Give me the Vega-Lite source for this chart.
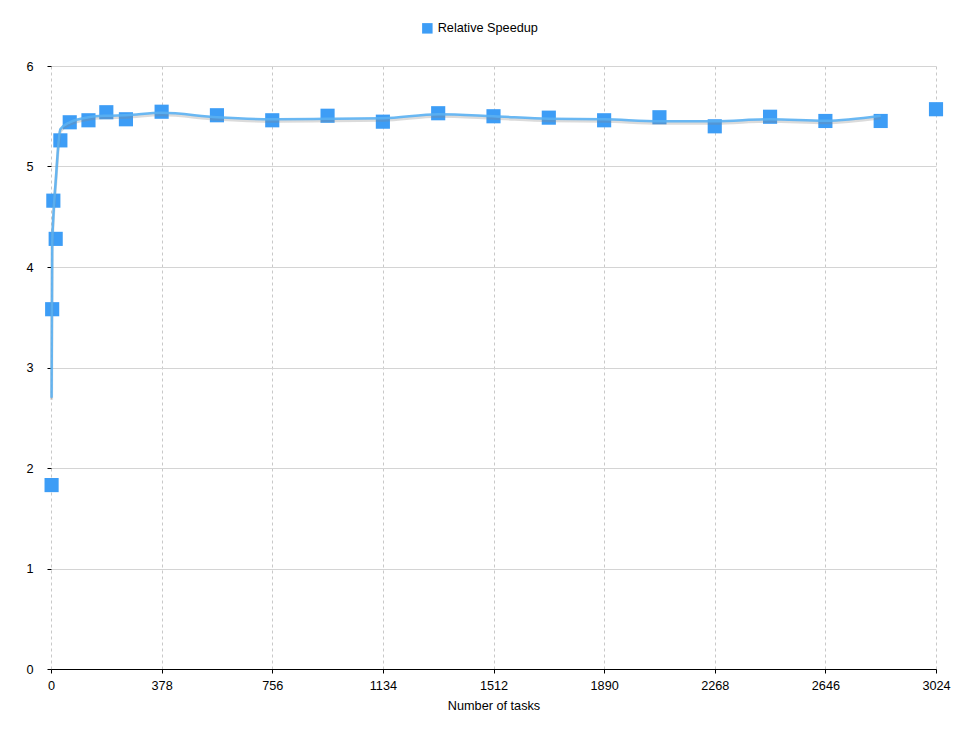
{
  "$schema": "https://vega.github.io/schema/vega-lite/v6.json",
  "width": 885,
  "height": 603,
  "autosize": {"type": "none"},
  "padding": {"left": 51, "top": 66, "right": 34, "bottom": 69},
  "background": "white",
  "config": {
    "font": "Liberation Sans",
    "view": {"stroke": null},
    "axis": {"labelFont": "Liberation Sans", "titleFont": "Liberation Sans", "labelFontSize": 12.7, "titleFontSize": 12.7, "labelColor": "#000", "titleColor": "#000", "titleFontWeight": "normal"},
    "legend": {"labelFont": "Liberation Sans", "labelFontSize": 12.7, "labelColor": "#000"}
  },
  "datasets": {
    "pts": [
      {"tasks": 2, "speedup": 1.83},
      {"tasks": 4, "speedup": 3.58},
      {"tasks": 8, "speedup": 4.66},
      {"tasks": 16, "speedup": 4.28},
      {"tasks": 32, "speedup": 5.26},
      {"tasks": 64, "speedup": 5.44},
      {"tasks": 128, "speedup": 5.46},
      {"tasks": 189, "speedup": 5.54},
      {"tasks": 256, "speedup": 5.47},
      {"tasks": 378, "speedup": 5.545},
      {"tasks": 567, "speedup": 5.51},
      {"tasks": 756, "speedup": 5.46},
      {"tasks": 945, "speedup": 5.505},
      {"tasks": 1134, "speedup": 5.446},
      {"tasks": 1323, "speedup": 5.53},
      {"tasks": 1512, "speedup": 5.5},
      {"tasks": 1701, "speedup": 5.486},
      {"tasks": 1890, "speedup": 5.46},
      {"tasks": 2079, "speedup": 5.49},
      {"tasks": 2268, "speedup": 5.4},
      {"tasks": 2457, "speedup": 5.495},
      {"tasks": 2646, "speedup": 5.453},
      {"tasks": 2835, "speedup": 5.453},
      {"tasks": 3024, "speedup": 5.57}
    ],
    "trend": [
      {"tasks": 2, "speedup": 2.7},
      {"tasks": 4, "speedup": 4.2},
      {"tasks": 8, "speedup": 4.5},
      {"tasks": 16, "speedup": 4.85},
      {"tasks": 32, "speedup": 5.37},
      {"tasks": 64, "speedup": 5.44},
      {"tasks": 128, "speedup": 5.49},
      {"tasks": 189, "speedup": 5.505},
      {"tasks": 256, "speedup": 5.51},
      {"tasks": 378, "speedup": 5.535},
      {"tasks": 567, "speedup": 5.49},
      {"tasks": 756, "speedup": 5.47},
      {"tasks": 945, "speedup": 5.475},
      {"tasks": 1134, "speedup": 5.48},
      {"tasks": 1323, "speedup": 5.52},
      {"tasks": 1512, "speedup": 5.5},
      {"tasks": 1701, "speedup": 5.475},
      {"tasks": 1890, "speedup": 5.47},
      {"tasks": 2079, "speedup": 5.45},
      {"tasks": 2268, "speedup": 5.45},
      {"tasks": 2457, "speedup": 5.47},
      {"tasks": 2646, "speedup": 5.455},
      {"tasks": 2835, "speedup": 5.505}
    ]
  },
  "encoding": {
    "x": {
      "field": "tasks", "type": "quantitative",
      "scale": {"domain": [0, 3024], "nice": false, "zero": true},
      "axis": {
        "title": "Number of tasks",
        "values": [0, 378, 756, 1134, 1512, 1890, 2268, 2646, 3024],
        "format": "d",
        "labelFlush": false,
        "grid": true, "gridDash": [3, 3], "gridColor": "#c8c8c8",
        "domainColor": "#000", "domainWidth": 1.2,
        "tickColor": "#000", "tickSize": 4,
        "labelPadding": 6, "titlePadding": 8
      }
    },
    "y": {
      "field": "speedup", "type": "quantitative",
      "scale": {"domain": [0, 6], "nice": false},
      "axis": {
        "title": null,
        "values": [0, 1, 2, 3, 4, 5, 6],
        "labelFlush": false,
        "grid": true, "gridColor": "#d4d4d4",
        "domain": false,
        "tickColor": "#000", "tickSize": 4,
        "labelPadding": 14
      }
    }
  },
  "layer": [
    {
      "data": {"name": "pts"},
      "mark": {"type": "point", "shape": "square", "filled": true, "size": 200, "opacity": 1},
      "encoding": {
        "color": {
          "datum": "Relative Speedup",
          "type": "nominal",
          "scale": {"range": ["#3d9df6"]},
          "legend": {"title": null, "orient": "none", "legendX": 370, "legendY": -44, "symbolType": "square", "symbolSize": 110, "symbolOpacity": 1}
        }
      }
    },
    {
      "data": {"name": "trend"},
      "mark": {"type": "line", "interpolate": "monotone", "color": "#888", "strokeWidth": 3, "opacity": 0.3, "yOffset": 2},
      "encoding": {}
    },
    {
      "data": {"name": "trend"},
      "mark": {"type": "line", "interpolate": "monotone", "color": "#5ab0f2", "strokeWidth": 2.5, "opacity": 0.9},
      "encoding": {}
    }
  ]
}
